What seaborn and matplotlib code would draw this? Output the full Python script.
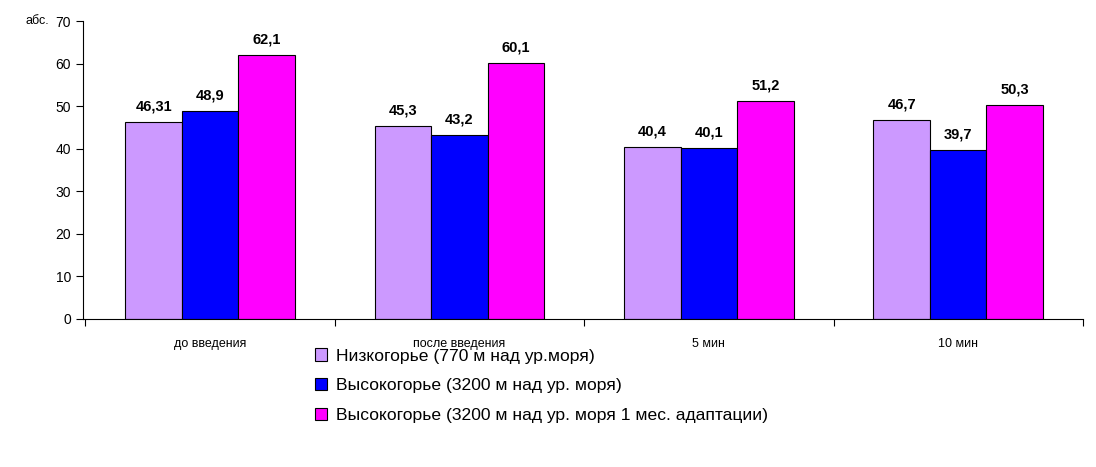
import pandas as pd
import matplotlib.pyplot as plt
import seaborn as sns

# Данные
categories = ['до введения', 'после введения', '5 мин', '10 мин']
groups = ['Низкогорье (770 м над ур.моря)',
          'Высокогорье (3200 м над ур. моря)',
          'Высокогорье (3200 м над ур. моря 1 мес. адаптации)']
low = [46.31, 45.3, 40.4, 46.7]
high = [48.9, 43.2, 40.1, 39.7]
high_adapt = [62.1, 60.1, 51.2, 50.3]
value_labels = [['46,31', '45,3', '40,4', '46,7'],
                ['48,9', '43,2', '40,1', '39,7'],
                ['62,1', '60,1', '51,2', '50,3']]
colors = ['#CC99FF', '#0000FF', '#FF00FF']

df = pd.DataFrame({
    'cat': categories * 3,
    'group': [groups[0]] * 4 + [groups[1]] * 4 + [groups[2]] * 4,
    'val': low + high + high_adapt,
})

sns.set_style('white')
plt.rcParams['font.family'] = ['Liberation Sans', 'DejaVu Sans']
plt.rcParams['text.color'] = 'black'
plt.rcParams['xtick.color'] = 'black'
plt.rcParams['ytick.color'] = 'black'

fig = plt.figure(figsize=(10.96, 4.67), dpi=100)
ax = fig.add_axes([0.0757, 0.317, 0.9123, 0.638])
sns.barplot(data=df, x='cat', y='val', hue='group', palette=colors,
            width=0.68, edgecolor='black', linewidth=0.8, saturation=1,
            legend=True, ax=ax)

for cont, labs in zip(ax.containers, value_labels):
    ax.bar_label(cont, labels=labs, padding=6, fontsize=10.5, fontweight='bold')

ax.set_ylim(0, 70)
ax.set_xlim(-0.51, 3.49)
ax.set_yticks(range(0, 71, 10))
ax.tick_params(axis='y', labelsize=10, length=5, width=0.8, left=True, direction='out')
ax.set_xticks(range(4))
ax.set_xticklabels(categories, fontsize=9)
ax.tick_params(axis='x', which='major', length=0, pad=14)
ax.set_xticks([-0.5, 0.5, 1.5, 2.5, 3.5], minor=True)
ax.tick_params(axis='x', which='minor', length=5, width=0.8, bottom=True, direction='out')
for s in ['top', 'right']:
    ax.spines[s].set_visible(False)
for s in ['left', 'bottom']:
    ax.spines[s].set_color('black')
    ax.spines[s].set_linewidth(0.8)
ax.set_xlabel('')
ax.set_ylabel('')
fig.text(25 / 1096, 1 - 21 / 467, 'абс.', fontsize=9, va='center', ha='left')

leg = ax.legend(loc='upper left', bbox_to_anchor=(0.225, -0.075), frameon=False,
                fontsize=12.6, handlelength=0.7, handleheight=0.7,
                handletextpad=0.5, labelspacing=0.82, borderaxespad=0)

fig.savefig('out.png', dpi=100)
